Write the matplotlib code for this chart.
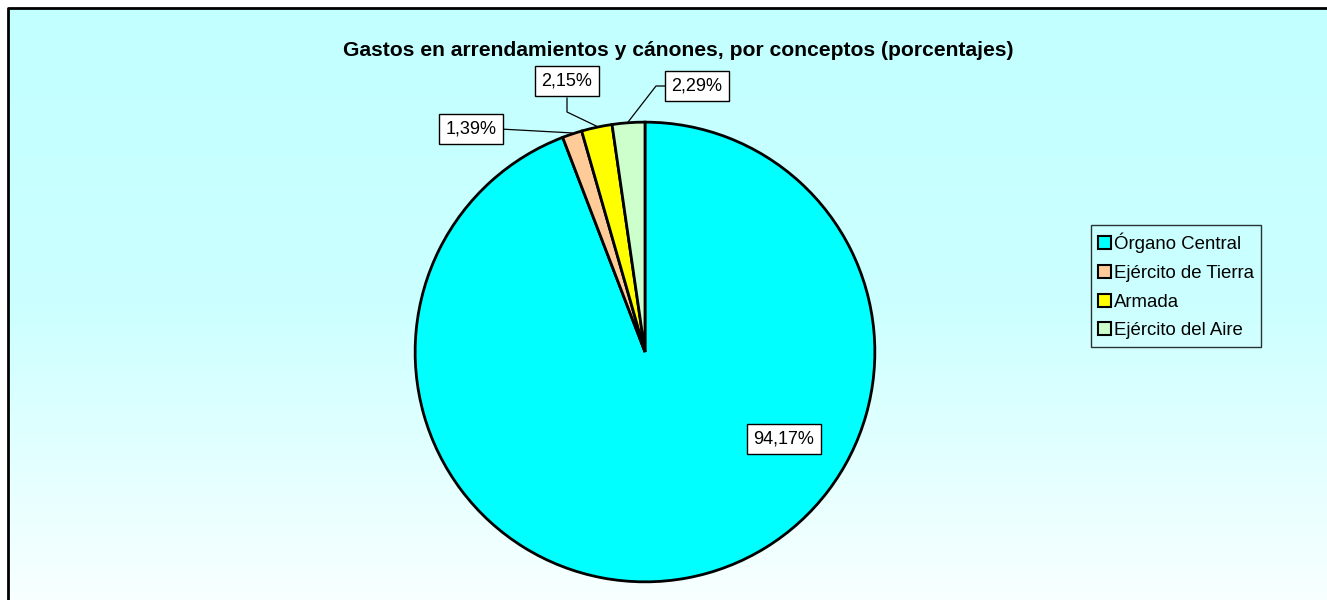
import numpy as np
import matplotlib
matplotlib.use("Agg")
import matplotlib.pyplot as plt
from matplotlib.colors import LinearSegmentedColormap

plt.rcParams['font.family'] = ['Liberation Sans', 'DejaVu Sans']

W, H = 1327, 600

title = "Gastos en arrendamientos y cánones, por conceptos (porcentajes)"
categories = ["Órgano Central", "Ejército de Tierra", "Armada", "Ejército del Aire"]
values = [94.17, 1.39, 2.15, 2.29]
colors = ["#00FFFF", "#FFCC99", "#FFFF00", "#CCFFCC"]
labels = ["94,17%", "1,39%", "2,15%", "2,29%"]

# pie geometry in pixels (top-left origin)
cx, cy, r = 645, 352, 231

fig = plt.figure(figsize=(W / 100, H / 100), dpi=100)
fig.patch.set_facecolor("white")

# background panel with vertical gradient and frame
bg = fig.add_axes([0, 0, 1, 1], zorder=0)
bg.set_xlim(0, W)
bg.set_ylim(H, 0)
bg.axis("off")
grad = np.linspace(0, 1, 256).reshape(-1, 1)
cmap = LinearSegmentedColormap.from_list("bg", ["#C2FFFF", "#CCFFFF", "#F8FFFF"])
bg.imshow(grad, cmap=cmap, aspect="auto", extent=(8, W, H, 8), zorder=0)
bg.plot([8, 8, W], [H, 8, 8], color="black", lw=2, zorder=1, solid_capstyle="projecting")

bg.text(678, 50, title, ha="center", va="center", fontsize=15.2, fontweight="bold")

ax = fig.add_axes([(cx - r) / W, (H - cy - r) / H, 2 * r / W, 2 * r / H], zorder=1)
wedges, _ = ax.pie(values, colors=colors, startangle=90, counterclock=False, radius=1,
                   wedgeprops=dict(edgecolor="black", linewidth=2))
ax.set_aspect("auto")
ax.set_xlim(-1.005, 1.005)
ax.set_ylim(-1.005, 1.005)
ax.axis("off")

# overlay for data labels and leader lines
top = fig.add_axes([0, 0, 1, 1], zorder=2)
top.set_xlim(0, W)
top.set_ylim(H, 0)
top.axis("off")
top.patch.set_alpha(0)

box_pos = [(784, 439), (471, 129), (567, 81), (697, 86)]
elbows = [None, None, (567, 112), (656, 86)]
starts = [None, (500, 129), (567, 98), (668, 86)]

bbox = dict(boxstyle="square,pad=0.36", facecolor="white", edgecolor="black", lw=1)
for i, (w, lab) in enumerate(zip(wedges, labels)):
    mid = np.deg2rad((w.theta1 + w.theta2) / 2)
    top.text(box_pos[i][0], box_pos[i][1], lab, ha="center", va="center",
             fontsize=13, bbox=bbox, zorder=5)
    if starts[i] is not None:
        ex = cx + r * np.cos(mid)
        ey = cy - r * np.sin(mid)
        xs = [starts[i][0]]
        ys = [starts[i][1]]
        if elbows[i] is not None:
            xs.append(elbows[i][0])
            ys.append(elbows[i][1])
        xs.append(ex)
        ys.append(ey)
        top.plot(xs, ys, color="black", lw=0.9, zorder=4)

leg = fig.legend(wedges, categories, loc="center", bbox_to_anchor=(1176 / W, 1 - 286 / H),
                 frameon=True, fancybox=False, fontsize=13.4, handlelength=0.7,
                 handleheight=0.7, handletextpad=0.15, labelspacing=0.62,
                 borderpad=0.4, borderaxespad=0)
leg.get_frame().set_edgecolor("black")
leg.get_frame().set_facecolor("none")
leg.get_frame().set_linewidth(1)
for h in leg.legend_handles:
    h.set_linewidth(1.5)

fig.savefig("out.png", dpi=100)
